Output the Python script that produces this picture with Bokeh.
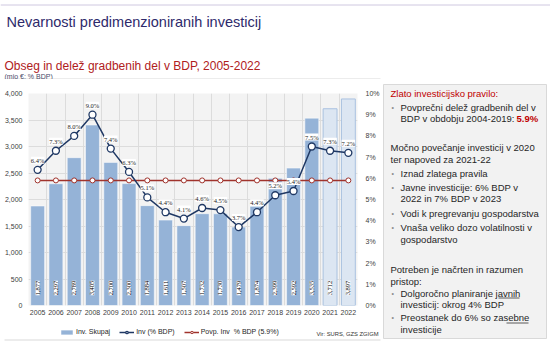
import math
from bokeh.plotting import figure
from bokeh.layouts import column, row
from bokeh.models import (ColumnDataSource, Range1d, LinearAxis, FixedTicker, NumeralTickFormatter,
                          PrintfTickFormatter, LabelSet, Label, Legend, LegendItem)
from bokeh.embed import file_html
from bokeh.resources import INLINE

# ---------------- data ----------------
years = list(range(2005, 2023))
inv_total = [1877, 2297, 2789, 3405, 2700, 2300, 1884, 1611, 1507, 1732, 1730, 1479, 1874,
             2399, 2592, 3535, 3712, 3897]
inv_pct = [6.4, 7.3, 8.0, 9.0, 7.4, 6.3, 5.1, 4.4, 4.1, 4.6, 4.5, 3.7, 4.4, 5.2, 5.4, 7.5, 7.3, 7.2]
avg_pct = 5.9
forecast_years = [2021, 2022]
left_ticks = [0, 500, 1000, 1500, 2000, 2500, 3000, 3500, 4000]
right_ticks = [0, 1, 2, 3, 4, 5, 6, 7, 8, 9, 10]

FONT = "Liberation Sans"
NAVY = "#1f3864"
RED = "#a0332c"
BAR = "#95b3d7"
BAR_LIGHT = "#dce6f2"
TXT = "#262626"

HAS_PAD = "padding" in LabelSet.properties()


def no_align(fig):
    if "frame_align" in fig.properties():
        fig.frame_align = False


def bare(fig):
    fig.axis.visible = False
    fig.grid.visible = False
    fig.outline_line_color = None
    fig.background_fill_color = "white"
    fig.border_fill_color = "white"
    fig.min_border = 0
    no_align(fig)


def lab(fig, x, y, text, size="9.5px", color=TXT, style="normal", baseline="middle"):
    fig.add_layout(Label(x=x, y=y, text=text, text_font=FONT, text_font_size=size,
                         text_color=color, text_font_style=style, text_baseline=baseline,
                         text_align="left"))


# ---------------- header (canvas rows 0-79) ----------------
head = figure(width=550, height=79, output_backend="svg", toolbar_location=None,
              x_range=Range1d(0, 550), y_range=Range1d(79, 0))
bare(head)
head.line([0, 550], [4.5, 4.5], line_color="#cfc8e0", line_width=1)
head.line([4, 380], [78.5, 78.5], line_color="#d9d9d9", line_width=1)
lab(head, 6, 21, "Nevarnosti predimenzioniranih investicij", size="14.5px", color="#2e2a6b",
    baseline="alphabetic")
lab(head, 4, 65, "Obseg in delež gradbenih del v BDP, 2005-2022", size="12px", color="#b0201c",
    baseline="alphabetic")
lab(head, 4, 75.5, "(mio €; % BDP)", size="7px", color="#4a4a6a", baseline="alphabetic")

# ---------------- chart (canvas rows 79-320) ----------------
actual = [i for i, y in enumerate(years) if y not in forecast_years]
fcst = [i for i, y in enumerate(years) if y in forecast_years]

src_act = ColumnDataSource(dict(x=[years[i] for i in actual], top=[inv_total[i] for i in actual]))
src_fc = ColumnDataSource(dict(x=[years[i] for i in fcst], top=[inv_total[i] for i in fcst]))
src_val = ColumnDataSource(dict(x=years, y=[0] * len(years), txt=[f"{v:,}" for v in inv_total]))
src_pct = ColumnDataSource(dict(x=years, y=inv_pct, txt=[f"{v:.1f}%" for v in inv_pct]))
src_avg = ColumnDataSource(dict(x=years, y=[avg_pct] * len(years)))

p = figure(width=382, height=241, output_backend="svg", toolbar_location=None,
           x_range=Range1d(years[0] - 0.5, years[-1] + 0.5), y_range=Range1d(0, 4000),
           min_border_left=28, min_border_right=25, min_border_top=14, min_border_bottom=15)
no_align(p)
p.extra_y_ranges = {"pct": Range1d(0, 10)}
p.outline_line_color = None
p.background_fill_color = "#f3f3f3"
p.border_fill_color = "white"

p.ygrid.ticker = FixedTicker(ticks=left_ticks)
p.ygrid.grid_line_color = "#dcdcdc"
p.xgrid.ticker = FixedTicker(ticks=[y + 0.5 for y in years[:-1]])
p.xgrid.grid_line_color = "#dcdcdc"

for ax in (p.xaxis[0], p.yaxis[0]):
    ax.axis_line_color = None
    ax.major_tick_line_color = None
    ax.minor_tick_line_color = None
    ax.major_tick_out = 0
    ax.major_label_text_font = FONT
    ax.major_label_text_font_size = "7px"
    ax.major_label_text_color = "#404040"
p.xaxis.ticker = FixedTicker(ticks=years)
p.xaxis.major_label_standoff = 4
p.yaxis.ticker = FixedTicker(ticks=left_ticks)
p.yaxis.formatter = NumeralTickFormatter(format="0,0")
p.yaxis.major_label_standoff = 6

rax = LinearAxis(y_range_name="pct", ticker=FixedTicker(ticks=right_ticks),
                 formatter=PrintfTickFormatter(format="%d%%"))
rax.axis_line_color = None
rax.major_tick_line_color = None
rax.minor_tick_line_color = None
rax.major_tick_out = 0
rax.major_label_text_font = FONT
rax.major_label_text_font_size = "7px"
rax.major_label_text_color = "#404040"
rax.major_label_standoff = 8
p.add_layout(rax, "right")

p.vbar(x="x", top="top", width=0.76, source=src_act, fill_color=BAR,
       line_color="white", line_width=0.5)
p.vbar(x="x", top="top", width=0.76, source=src_fc, fill_color=BAR_LIGHT,
       line_color="#a9c1e0", line_width=1)

p.line("x", "y", source=src_avg, y_range_name="pct", line_color=RED, line_width=1.5)
p.scatter("x", "y", source=src_avg, y_range_name="pct", size=5, fill_color="white",
          line_color=RED, line_width=1)
p.line("x", "y", source=src_pct, y_range_name="pct", line_color=NAVY, line_width=1.5)
p.scatter("x", "y", source=src_pct, y_range_name="pct", size=7, fill_color="white",
          line_color=NAVY, line_width=1.3)

val_kw = dict(padding=[5, 1]) if HAS_PAD else {}
p.add_layout(LabelSet(x="x", y="y", text="txt", source=src_val, angle=math.pi / 2, y_offset=17.5,
                      text_align="center", text_baseline="middle", text_font=FONT,
                      text_font_size="6.5px", text_color="#000000",
                      background_fill_color="white", **val_kw))
pct_kw = dict(padding=[2, 1]) if HAS_PAD else {}
p.add_layout(LabelSet(x="x", y="y", text="txt", source=src_pct, y_range_name="pct", y_offset=6,
                      text_align="center", text_baseline="bottom", text_font=FONT,
                      text_font_size="6.5px", text_color=TXT, background_fill_color="white",
                      **pct_kw))

# ---------------- legend strip (canvas rows 320-351) ----------------
# The legend renderers share the chart data; in this strip's ranges they fall outside and are clipped.
bot = figure(width=382, height=31, output_backend="svg", toolbar_location=None,
             x_range=Range1d(0, 382), y_range=Range1d(351, 320))
bare(bot)
lg_bar = bot.vbar(x="x", top="top", width=0.76, source=src_act,
                  fill_color=BAR, line_color="white", line_width=0.5)
lg_pl = bot.line("x", "y", source=src_pct, line_color=NAVY, line_width=1.5)
lg_pp = bot.scatter("x", "y", source=src_pct, size=7, fill_color="white",
                    line_color=NAVY, line_width=1.3)
lg_al = bot.line("x", "y", source=src_avg, line_color=RED, line_width=1.5)
lg_ap = bot.scatter("x", "y", source=src_avg, size=5, fill_color="white",
                    line_color=RED, line_width=1)
legend = Legend(items=[LegendItem(label="Inv. Skupaj", renderers=[lg_bar]),
                       LegendItem(label="Inv (% BDP)", renderers=[lg_pl, lg_pp]),
                       LegendItem(label="Povp. Inv  % BDP (5.9%)", renderers=[lg_al, lg_ap])],
                orientation="horizontal", location=(59, 16), padding=0, margin=0, spacing=9,
                glyph_width=15, glyph_height=6, label_standoff=2, label_text_font=FONT,
                label_text_font_size="7px", label_text_color=TXT, border_line_color=None,
                background_fill_alpha=0)
bot.add_layout(legend, "center")
lab(bot, 316, 333, "Vir: SURS, GZS ZGIGM", size="5.8px", color="#333333")
bot.line([4, 380], [339.5, 339.5], line_color="#d9d9d9", line_width=1)

# ---------------- text panel (canvas cols 382-550, rows 79-351) ----------------
tp = figure(width=168, height=272, output_backend="svg", toolbar_location=None,
            x_range=Range1d(382, 550), y_range=Range1d(351, 79))
bare(tp)
tp.quad(left=[383], right=[546], top=[84], bottom=[338], fill_color="#f2f2f2",
        line_color="#d9d9d9", line_width=1)

BUL = "#8c8c8c"
lab(tp, 390, 93, "Zlato investicijsko pravilo:", color="#c00000")
lab(tp, 391, 107, "•", size="7px", color=BUL)
lab(tp, 400, 107, "Povprečni delež gradbenih del v")
lab(tp, 400, 118, "BDP v obdobju 2004-2019:")
lab(tp, 516, 118, "5.9%", color="#c00000", style="bold")
lab(tp, 390, 147, "Močno povečanje investicij v 2020")
lab(tp, 390, 159, "ter napoved za 2021-22")
lab(tp, 391, 173, "•", size="7px", color=BUL)
lab(tp, 400, 173, "Iznad zlatega pravila")
lab(tp, 391, 187, "•", size="7px", color=BUL)
lab(tp, 400, 187, "Javne investicije: 6% BDP v")
lab(tp, 400, 198, "2022 in 7% BDP v 2023")
lab(tp, 391, 213, "•", size="7px", color=BUL)
lab(tp, 400, 213, "Vodi k pregrevanju gospodarstva")
lab(tp, 391, 227, "•", size="7px", color=BUL)
lab(tp, 400, 227, "Vnaša veliko dozo volatilnosti v")
lab(tp, 400, 239, "gospodarstvo")
lab(tp, 390, 269, "Potreben je načrten in razumen")
lab(tp, 390, 281, "pristop:")
lab(tp, 391, 293, "•", size="7px", color=BUL)
lab(tp, 400, 293, "Dolgoročno planiranje javnih")
lab(tp, 400, 304, "investicij: okrog 4% BDP")
lab(tp, 391, 317, "•", size="7px", color=BUL)
lab(tp, 400, 317, "Preostanek do 6% so zasebne")
lab(tp, 400, 329, "investicije")
tp.line([498, 519], [297.5, 297.5], line_color="#333333", line_width=0.8)
tp.line([506, 528], [322.5, 322.5], line_color="#333333", line_width=0.8)

layout = column(head, row(column(p, bot, spacing=0), tp, spacing=0), spacing=0)
open("out.html", "w").write(file_html(layout, INLINE))
